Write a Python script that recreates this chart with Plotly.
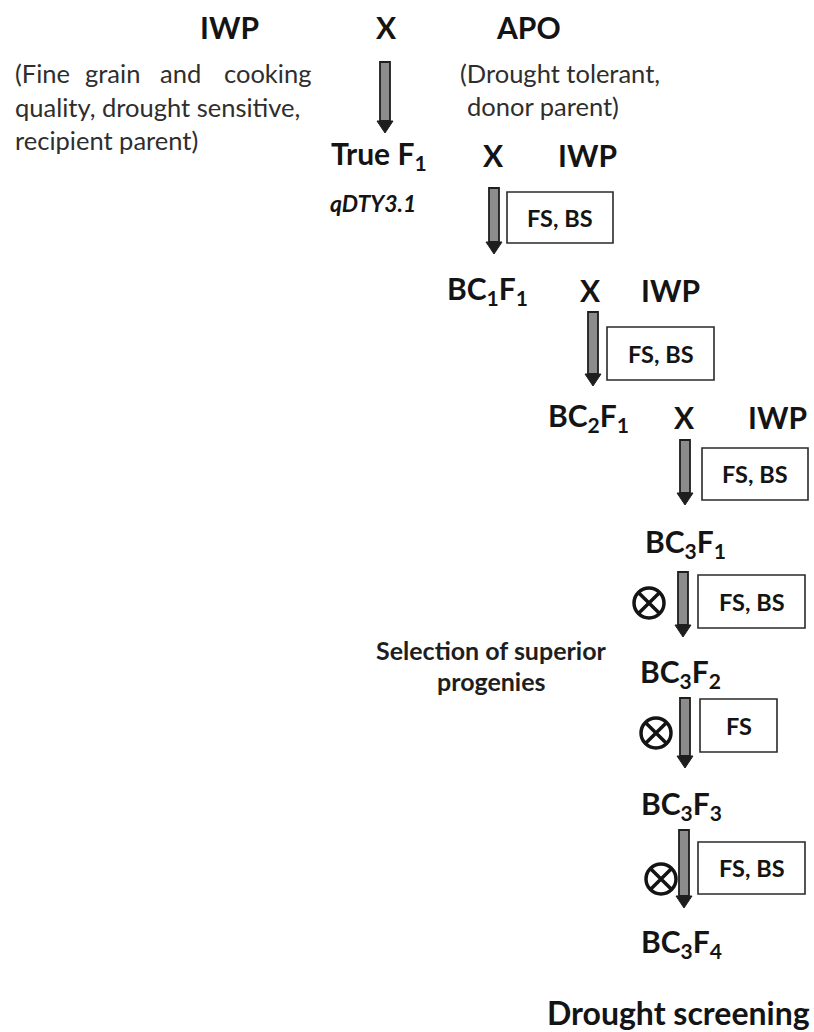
import plotly.graph_objects as go

W, H = 814, 1032
FONT = "Lato"
INK = "#141414"
PARA = "#2e2e2e"

# ---- node labels (bold) ----
node_labels = ["IWP", "X", "APO",
               "True F<sub>1</sub>", "X", "IWP",
               "BC<sub>1</sub>F<sub>1</sub>", "X", "IWP",
               "BC<sub>2</sub>F<sub>1</sub>", "X", "IWP",
               "BC<sub>3</sub>F<sub>1</sub>", "BC<sub>3</sub>F<sub>2</sub>",
               "BC<sub>3</sub>F<sub>3</sub>", "BC<sub>3</sub>F<sub>4</sub>"]
node_x = [229, 386, 528, 379, 493, 587, 487, 590, 670, 588, 684, 777, 685, 680, 681, 681]
node_y = [27, 27, 27, 155, 155, 155, 290, 290, 290, 417, 417, 417, 543, 673, 805, 943]

# ---- descriptive paragraphs ----
para_text = ["(Fine", "grain", "and", "cooking",
             "quality, drought sensitive,", "recipient parent)",
             "(Drought tolerant,", "donor parent)"]
para_x = [13, 83, 158, 222, 13, 13, 458, 465]
para_y = [73, 73, 73, 73, 107, 140, 73, 106]

# ---- arrows: x, top, tip ----
arrow_x = [385, 494, 593, 685, 683, 685, 684]
arrow_top = [62, 188, 312, 440, 572, 698, 830]
arrow_tip = [133, 254, 386, 505, 637, 768, 908]

# ---- selection boxes ----
box_x0 = [507, 607, 702, 698, 700, 698]
box_x1 = [613, 714, 808, 805, 777, 805]
box_y0 = [192, 327, 448, 575, 699, 842]
box_y1 = [243, 380, 500, 628, 752, 894]
box_text = ["FS, BS", "FS, BS", "FS, BS", "FS, BS", "FS", "FS, BS"]

# ---- selfing symbols ----
self_x = [649, 656, 661]
self_y = [603, 733, 879]

# ---- side note and final step ----
note_lines = ["Selection of superior", "progenies"]
note_y = [650, 681]

fig = go.Figure()

shapes = []
for x, t, tip in zip(arrow_x, arrow_top, arrow_tip):
    hb = tip - 12
    shapes.append(dict(type="rect", xref="x", yref="y", x0=x - 5, x1=x + 5, y0=t, y1=hb,
                       fillcolor="#8c8c8c", line=dict(color="#1e1e1e", width=1.8), layer="above"))
    shapes.append(dict(type="path", xref="x", yref="y",
                       path=f"M {x-8},{hb} L {x+8},{hb} L {x},{tip} Z",
                       fillcolor="#1e1e1e", line=dict(color="#1e1e1e", width=1), layer="above"))
for x0, x1, y0, y1 in zip(box_x0, box_x1, box_y0, box_y1):
    shapes.append(dict(type="rect", xref="x", yref="y", x0=x0, x1=x1, y0=y0, y1=y1,
                       fillcolor="rgba(0,0,0,0)", line=dict(color="#2a2a2a", width=1.6)))

ann = []
for t, x, y in zip(node_labels, node_x, node_y):
    ann.append(dict(x=x, y=y, text=t, showarrow=False, xanchor="center", yanchor="middle",
                    font=dict(family=FONT, size=30, color=INK, weight="bold")))
for t, x, y in zip(para_text, para_x, para_y):
    ann.append(dict(x=x, y=y, text=t, showarrow=False, xanchor="left", yanchor="middle",
                    font=dict(family=FONT, size=25.5, color=PARA)))
for t, x0, x1, y0, y1 in zip(box_text, box_x0, box_x1, box_y0, box_y1):
    ann.append(dict(x=(x0 + x1) / 2, y=(y0 + y1) / 2, text=t, showarrow=False,
                    xanchor="center", yanchor="middle",
                    font=dict(family=FONT, size=23.5, color=INK, weight="bold")))
ann.append(dict(x=328, y=203, text="<i>qDTY3.1</i>", showarrow=False, xanchor="left", yanchor="middle",
                font=dict(family=FONT, size=23, color=INK, weight="bold")))
for t, y in zip(note_lines, note_y):
    ann.append(dict(x=491, y=y, text=t, showarrow=False, xanchor="center",
                    yanchor="middle", font=dict(family=FONT, size=25, color="#1e1e1e", weight="bold")))
ann.append(dict(x=678, y=1012, text="Drought screening", showarrow=False, xanchor="center",
                yanchor="middle", font=dict(family=FONT, size=32, color=INK, weight="bold")))

fig.add_trace(go.Scatter(x=self_x, y=self_y, mode="markers", hoverinfo="skip",
                         marker=dict(symbol="circle-x-open", size=30, color=INK,
                                     line=dict(width=3.5, color=INK))))

fig.update_layout(width=W, height=H, margin=dict(l=0, r=0, t=0, b=0),
                  paper_bgcolor="white", plot_bgcolor="white", showlegend=False,
                  shapes=shapes, annotations=ann,
                  xaxis=dict(range=[0, W], visible=False, fixedrange=True),
                  yaxis=dict(range=[H, 0], visible=False, fixedrange=True))
fig.write_html("out.html", config={"displayModeBar": False},
               post_script="document.body.style.margin='0';document.body.style.padding='0';"
                           "document.body.style.overflow='hidden';")
